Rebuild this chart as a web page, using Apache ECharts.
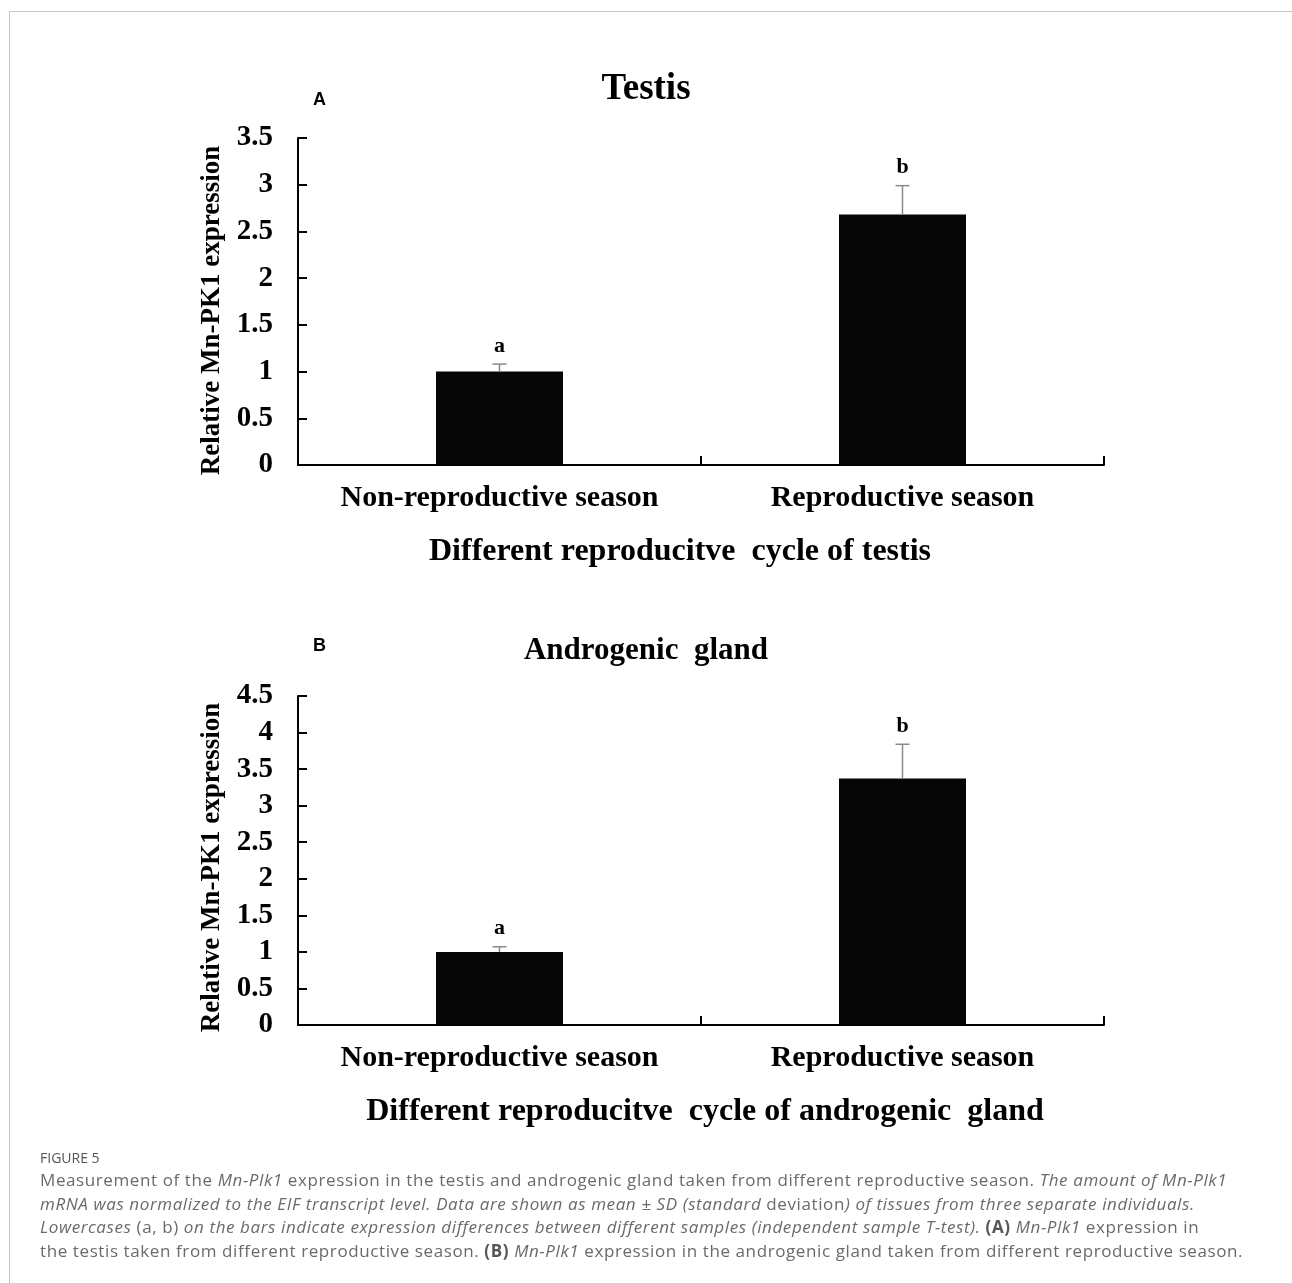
<!DOCTYPE html>
<html>
<head>
<meta charset="utf-8">
<script src="https://cdn.jsdelivr.net/npm/echarts@6/dist/echarts.min.js"></script>
<style>
  html, body { margin: 0; padding: 0; background: #fff; }
  #wrap { position: relative; width: 1292px; height: 1283px; overflow: hidden; }
  #chart { position: absolute; left: 0; top: 0; width: 1292px; height: 1283px; }
  #frame { position: absolute; left: 9px; top: 11px; right: 0; bottom: 0; border-top: 1px solid #c6c6c6; border-left: 1px solid #c6c6c6; pointer-events: none; }
  #fig { position: absolute; left: 40px; top: 1148px; font-family: "Open Sans", sans-serif; font-size: 14px; color: #555; }
  #cap { position: absolute; left: 40px; top: 1168px; font-family: "Open Sans", sans-serif; font-size: 17px; line-height: 23.7px; color: #6a6a6a; white-space: nowrap; font-weight: 400; letter-spacing: 0.6px; }
  #cap b { font-weight: 700; color: #555; }
</style>
</head>
<body>
<div id="wrap">
  <div id="chart"></div>
  <div id="frame"></div>
  <div id="fig">FIGURE 5</div>
  <div id="cap">
    Measurement of the <i>Mn-Plk1</i> expression in the testis and androgenic gland taken from different reproductive season. <i>The amount of Mn-Plk1</i><br>
    <i>mRNA was normalized to the EIF transcript level. Data are shown as mean ± SD (standard</i> deviation<i>) of tissues from three separate individuals.</i><br>
    <i>Lowercases</i> (a, b) <i>on the bars indicate expression differences between different samples (independent sample T-test).</i> <b>(A)</b> <i>Mn-Plk1</i> expression in<br>
    the testis taken from different reproductive season. <b>(B)</b> <i>Mn-Plk1</i> expression in the androgenic gland taken from different reproductive season.
  </div>
</div>
<script>
const categories = ['Non-reproductive season', 'Reproductive season'];
const testisMean = [1.0, 2.68];
const testisSD = [0.08, 0.31];
const testisLetters = ['a', 'b'];
const glandMean = [1.0, 3.37];
const glandSD = [0.07, 0.47];
const glandLetters = ['a', 'b'];
const testisTicks = { min: 0, max: 3.5, interval: 0.5 };
const glandTicks = { min: 0, max: 4.5, interval: 0.5 };

const SERIF = '"Liberation Serif", "Times New Roman", serif';

function errRender(letters) {
  return function (params, api) {
    const x = api.value(0), m = api.value(1), sd = api.value(2);
    const p0 = api.coord([x, m]);
    const p1 = api.coord([x, m + sd]);
    const half = 7;
    const st = { stroke: '#8a8a8a', lineWidth: 1.5 };
    return {
      type: 'group',
      children: [
        { type: 'line', shape: { x1: p0[0], y1: p0[1], x2: p1[0], y2: p1[1] }, style: st },
        { type: 'line', shape: { x1: p1[0] - half, y1: p1[1], x2: p1[0] + half, y2: p1[1] }, style: st },
        { type: 'text', x: p1[0], y: p1[1] - 7, style: { text: letters[params.dataIndex], fill: '#000', font: 'bold 22px ' + SERIF, align: 'center', verticalAlign: 'bottom' } }
      ]
    };
  };
}

function xAxisCfg(gridIndex, name, shift) {
  return {
    type: 'category', gridIndex: gridIndex, data: categories,
    name: name, nameLocation: 'middle', nameGap: 71,
    nameTextStyle: { fontFamily: SERIF, fontWeight: 'bold', fontSize: 32, color: '#000', padding: shift > 0 ? [0, 0, 0, shift * 2] : [0, -shift * 2, 0, 0] },
    axisLine: { lineStyle: { color: '#000', width: 2 } },
    axisTick: { show: true, inside: true, length: 9, alignWithLabel: false, interval: 0, lineStyle: { color: '#000', width: 2 } },
    axisLabel: { interval: 0, hideOverlap: false, fontFamily: SERIF, fontWeight: 'bold', fontSize: 30, color: '#000', margin: 18 },
    splitLine: { show: false }
  };
}
function yAxisCfg(gridIndex, t, down) {
  return {
    type: 'value', gridIndex: gridIndex, min: t.min, max: t.max, interval: t.interval,
    name: 'Relative Mn-PK1 expression', nameLocation: 'middle', nameGap: 72, nameRotate: 90,
    nameTextStyle: { fontFamily: SERIF, fontWeight: 'bold', fontSize: 27, color: '#000', padding: [0, down * 2, 0, 0] },
    axisLine: { show: true, lineStyle: { color: '#000', width: 2 } },
    axisTick: { show: true, inside: true, length: 9, lineStyle: { color: '#000', width: 2 } },
    axisLabel: { fontFamily: SERIF, fontWeight: 'bold', fontSize: 29, color: '#000', margin: 25 },
    splitLine: { show: false }
  };
}

const chart = echarts.init(document.getElementById('chart'), null, { renderer: 'canvas' });
chart.setOption({
  backgroundColor: 'transparent',
  animation: false,
  title: [
    { text: 'Testis', left: 'center', top: 66, textStyle: { fontFamily: SERIF, fontWeight: 'bold', fontSize: 37, color: '#000' } },
    { text: 'Androgenic  gland', left: 'center', top: 630, textStyle: { fontFamily: SERIF, fontWeight: 'bold', fontSize: 31, color: '#000' } },
    { text: 'A', left: 308, top: 86, textStyle: { fontFamily: '"Liberation Sans", Arial, sans-serif', fontWeight: 'bold', fontSize: 18, color: '#000' } },
    { text: 'B', left: 308, top: 632, textStyle: { fontFamily: '"Liberation Sans", Arial, sans-serif', fontWeight: 'bold', fontSize: 18, color: '#000' } }
  ],
  grid: [
    { left: 298, top: 138, width: 806, height: 327 },
    { left: 298, top: 696, width: 806, height: 329 }
  ],
  xAxis: [
    xAxisCfg(0, 'Different reproducitve  cycle of testis', -21),
    xAxisCfg(1, 'Different reproducitve  cycle of androgenic  gland', 4)
  ],
  yAxis: [yAxisCfg(0, testisTicks, 9), yAxisCfg(1, glandTicks, 7)],
  series: [
    { type: 'bar', xAxisIndex: 0, yAxisIndex: 0, data: testisMean, barWidth: 127, itemStyle: { color: '#060606' } },
    { type: 'custom', xAxisIndex: 0, yAxisIndex: 0, renderItem: errRender(testisLetters),
      data: testisMean.map((m, i) => [i, m, testisSD[i]]), z: 5 },
    { type: 'bar', xAxisIndex: 1, yAxisIndex: 1, data: glandMean, barWidth: 127, itemStyle: { color: '#060606' } },
    { type: 'custom', xAxisIndex: 1, yAxisIndex: 1, renderItem: errRender(glandLetters),
      data: glandMean.map((m, i) => [i, m, glandSD[i]]), z: 5 }
  ]
});
</script>
</body>
</html>
